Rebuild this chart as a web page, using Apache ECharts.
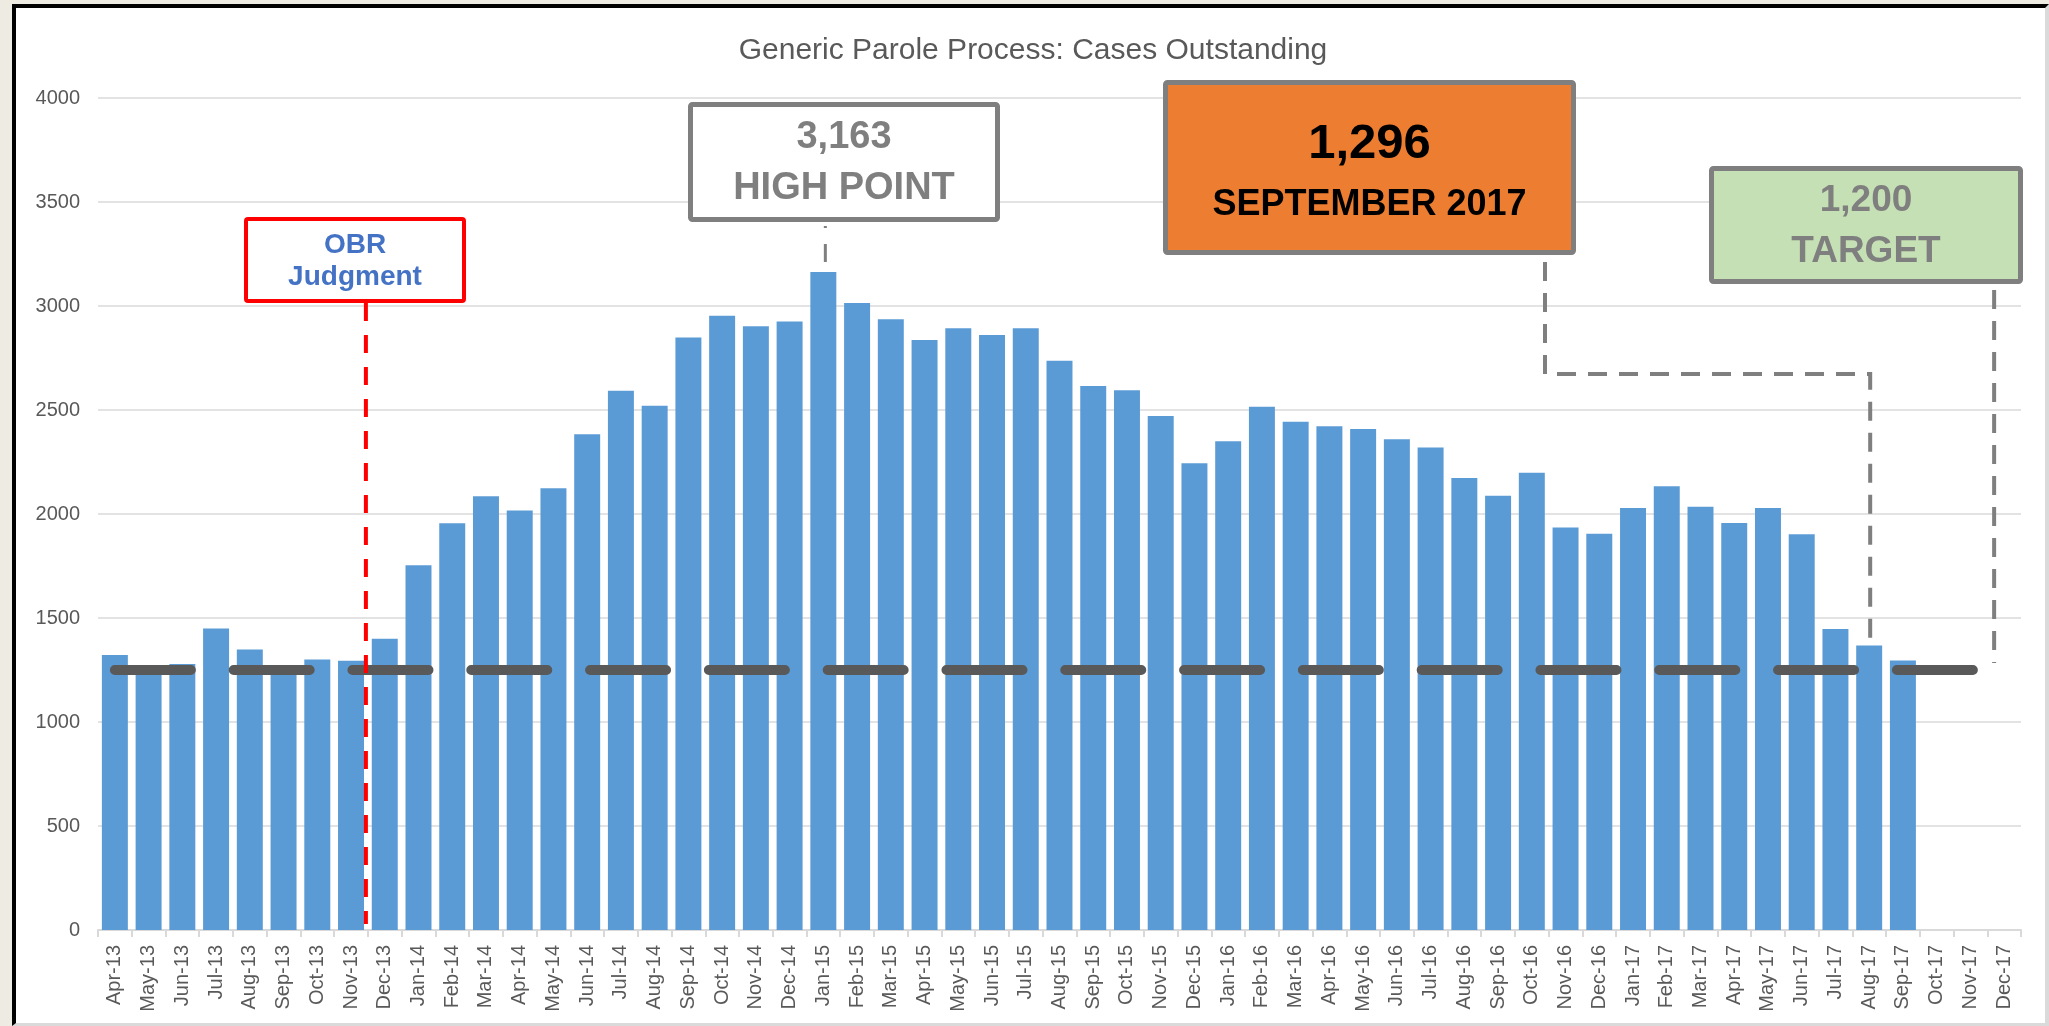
<!DOCTYPE html>
<html>
<head>
<meta charset="utf-8">
<script src="https://cdn.jsdelivr.net/npm/echarts@6/dist/echarts.min.js"></script>
<style>
html,body{margin:0;padding:0;background:#EEEBE3;width:2049px;height:1026px;overflow:hidden}
#frame{position:absolute;left:12px;top:4px;width:2029px;height:1015px;background:#fff;border-left:4px solid #000;border-top:4px solid #000;border-right:4px solid #DADADA;border-bottom:3px solid #DADADA}
#main{position:absolute;left:0;top:0;width:2049px;height:1026px}
</style>
</head>
<body>
<div id="frame"></div>
<div id="main"></div>
<script>
// ---------- data ----------
const chartTitle = 'Generic Parole Process: Cases Outstanding';

const categories = [
  'Apr-13','May-13','Jun-13','Jul-13','Aug-13','Sep-13','Oct-13','Nov-13','Dec-13',
  'Jan-14','Feb-14','Mar-14','Apr-14','May-14','Jun-14','Jul-14','Aug-14','Sep-14','Oct-14','Nov-14','Dec-14',
  'Jan-15','Feb-15','Mar-15','Apr-15','May-15','Jun-15','Jul-15','Aug-15','Sep-15','Oct-15','Nov-15','Dec-15',
  'Jan-16','Feb-16','Mar-16','Apr-16','May-16','Jun-16','Jul-16','Aug-16','Sep-16','Oct-16','Nov-16','Dec-16',
  'Jan-17','Feb-17','Mar-17','Apr-17','May-17','Jun-17','Jul-17','Aug-17','Sep-17','Oct-17','Nov-17','Dec-17'
];

const casesOutstanding = [
  1322,1255,1279,1449,1349,1255,1301,1295,1400,
  1754,1955,2085,2017,2124,2383,2593,2521,2848,2953,2903,2925,
  3163,3014,2936,2837,2893,2860,2893,2737,2615,2595,2471,2244,
  2350,2516,2443,2422,2409,2359,2320,2173,2088,2198,1935,1905,
  2029,2134,2035,1957,2029,1903,1447,1368,1296,null,null,null
];

const yTickMin = 0;
const yTickMax = 4000;
const yTickStep = 500;

const targetValue = 1250;
const targetSpan = ['Apr-13', 'Dec-17'];

const judgmentLines = ['OBR', 'Judgment'];
const judgmentBetween = ['Nov-13', 'Dec-13'];

const highPointMonth = 'Jan-15';
const highPointValue = 3163;
const highPointLines = ['3,163', 'HIGH POINT'];

const latestPointerMonth = 'Aug-17';
const latestLines = ['1,296', 'SEPTEMBER 2017'];

const targetLines = ['1,200', 'TARGET'];

// ---------- chart ----------
const FONT = "'Liberation Sans', Arial, sans-serif";
const chart = echarts.init(document.getElementById('main'), null, {renderer: 'canvas'});

const option = {
  backgroundColor: 'transparent',
  animation: false,
  grid: {left: 98, right: 28, top: 98, bottom: 96, containLabel: false, outerBoundsMode: 'none'},
  xAxis: {
    type: 'category',
    data: categories,
    boundaryGap: true,
    axisLine: {show: true, lineStyle: {color: '#D9D9D9', width: 2}},
    axisTick: {show: true, length: 7, lineStyle: {color: '#D9D9D9', width: 2}},
    axisLabel: {rotate: 90, interval: 0, margin: 15, fontSize: 20, color: '#595959', fontFamily: FONT},
    splitLine: {show: false}
  },
  yAxis: {
    type: 'value',
    min: yTickMin, max: yTickMax, interval: yTickStep,
    axisLine: {show: false},
    axisTick: {show: false},
    axisLabel: {margin: 18, fontSize: 20, color: '#595959', fontFamily: FONT,
      formatter: v => String(v)},
    splitLine: {show: true, lineStyle: {color: '#E3E3E3', width: 2}}
  },
  series: [{
    type: 'bar',
    name: 'Cases Outstanding',
    data: casesOutstanding,
    barCategoryGap: '23%',
    itemStyle: {color: '#5B9BD5'},
    silent: true,
    markLine: {
      silent: true,
      symbol: ['none', 'none'],
      label: {show: false},
      emphasis: {disabled: true},
      lineStyle: {color: '#595959', width: 10, type: [76, 42.8], cap: 'round'},
      data: [[
        {coord: [targetSpan[0], targetValue]},
        {coord: [targetSpan[1], targetValue]}
      ]]
    }
  }]
};
chart.setOption(option);

// ---------- annotations ----------
const px = (cat, v) => chart.convertToPixel({seriesIndex: 0}, [categories.indexOf(cat), v]);
const GRAY = '#7F7F7F';

function box(x0, y0, x1, y1, fill, stroke, lw, texts) {
  const children = [{
    type: 'rect', z: 60,
    shape: {x: x0 + lw / 2, y: y0 + lw / 2, width: x1 - x0 - lw, height: y1 - y0 - lw, r: 2},
    style: {fill: fill, stroke: stroke, lineWidth: lw}
  }];
  texts.forEach(t => children.push({
    type: 'text', z: 61,
    style: {
      text: t.text, x: (x0 + x1) / 2, y: t.y,
      fill: t.color, font: t.font,
      textAlign: 'center', textVerticalAlign: 'middle', verticalAlign: 'middle'
    }
  }));
  return {type: 'group', children: children};
}

const p0 = px(categories[0], 0);
const pNov = px(judgmentBetween[0], 0);
const pDec = px(judgmentBetween[1], 0);
const redX = (pNov[0] + pDec[0]) / 2 - 2;
const pHigh = px(highPointMonth, highPointValue);
const pLatest = px(latestPointerMonth, casesOutstanding[categories.indexOf(latestPointerMonth)]);
const pTarget = px(targetSpan[1], targetValue);

const graphics = [
  // title
  {type: 'text', z: 61, style: {text: chartTitle, x: 1033, y: 51, fill: '#595959',
    font: '30px ' + FONT, textAlign: 'center', textVerticalAlign: 'middle', verticalAlign: 'middle'}},
  // OBR judgment red dashed line
  {type: 'line', z: 55, shape: {x1: redX, y1: 303, x2: redX, y2: p0[1] - 6},
    style: {stroke: '#FF0000', lineWidth: 4, lineDash: [18, 14]}},
  box(244, 217, 466, 303, '#FFFFFF', '#FF0000', 4, [
    {text: judgmentLines[0], y: 245, color: '#4472C4', font: 'bold 28px ' + FONT},
    {text: judgmentLines[1], y: 277, color: '#4472C4', font: 'bold 28px ' + FONT}
  ]),
  // high point
  {type: 'line', z: 55, shape: {x1: pHigh[0] + 2, y1: 226, x2: pHigh[0] + 2, y2: pHigh[1] - 10},
    style: {stroke: GRAY, lineWidth: 3, lineDash: [2, 16, 18]}},
  box(688, 102, 1000, 222, '#FFFFFF', GRAY, 5, [
    {text: highPointLines[0], y: 138, color: GRAY, font: 'bold 38px ' + FONT},
    {text: highPointLines[1], y: 189, color: GRAY, font: 'bold 38px ' + FONT}
  ]),
  // latest value
  {type: 'polyline', z: 55, shape: {points: [[1545, 262], [1545, 374], [pLatest[0] + 1, 374], [pLatest[0] + 1, pLatest[1] - 2]]},
    style: {stroke: GRAY, lineWidth: 4, lineDash: [19, 12], fill: null}},
  box(1163, 80, 1576, 255, '#ED7D31', GRAY, 5, [
    {text: latestLines[0], y: 144, color: '#000000', font: 'bold 49px ' + FONT},
    {text: latestLines[1], y: 205, color: '#000000', font: 'bold 36px ' + FONT}
  ]),
  // target
  {type: 'line', z: 55, shape: {x1: pTarget[0] - 10, y1: 290, x2: pTarget[0] - 10, y2: pTarget[1] - 7},
    style: {stroke: GRAY, lineWidth: 4, lineDash: [19, 12]}},
  box(1709, 166, 2023, 284, '#C5E0B4', GRAY, 5, [
    {text: targetLines[0], y: 201, color: GRAY, font: 'bold 37px ' + FONT},
    {text: targetLines[1], y: 252, color: GRAY, font: 'bold 37px ' + FONT}
  ])
];

chart.setOption({graphic: {elements: graphics}});
</script>
</body>
</html>
